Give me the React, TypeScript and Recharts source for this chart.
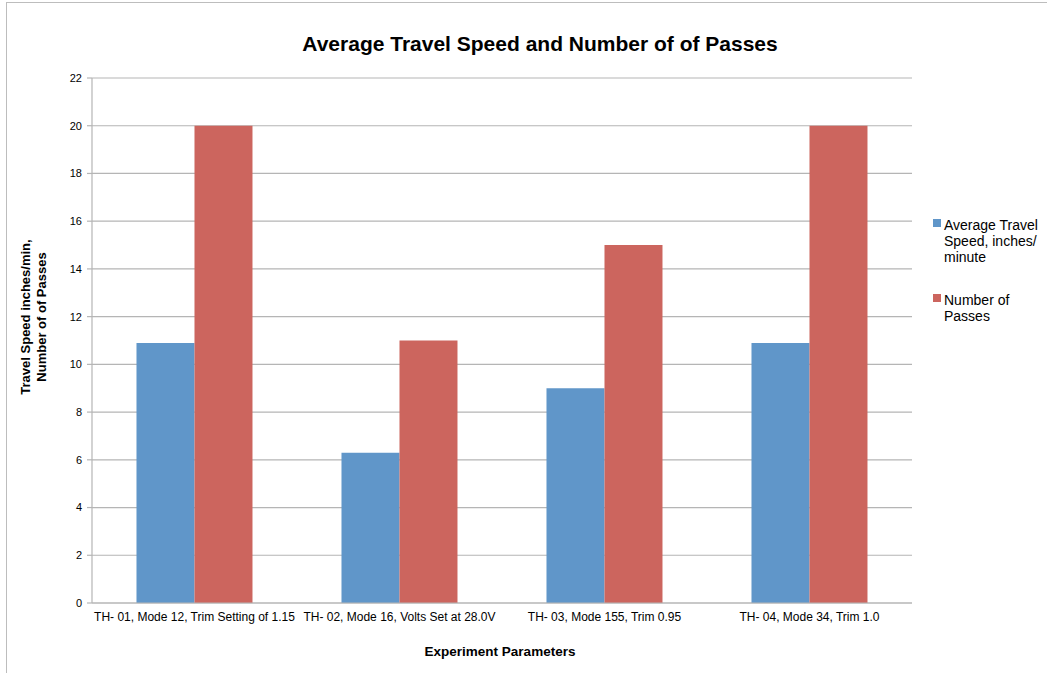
import React from "react";
import { Bar, BarChart, CartesianGrid, Legend, XAxis, YAxis } from "recharts";

const experiments = [
  "TH- 01, Mode 12, Trim Setting of 1.15",
  "TH- 02, Mode 16, Volts Set at 28.0V",
  "TH- 03, Mode 155, Trim 0.95",
  "TH- 04, Mode 34, Trim 1.0",
];
const travelSpeed = [10.9, 6.3, 9.0, 10.9];
const passes = [20, 11, 15, 20];
const yTicks = [0, 2, 4, 6, 8, 10, 12, 14, 16, 18, 20, 22];

const SPEED_NAME = "Average Travel Speed, inches/ minute";
const PASSES_NAME = "Number of Passes";

const data = experiments.map((name, i) => ({
  name,
  speed: travelSpeed[i],
  passes: passes[i],
}));

const FONT = "'Liberation Sans', Arial, sans-serif";
const GRID = "#b5b5b5";

function LegendBox({ payload }: any) {
  return (
    <div style={{ fontFamily: FONT, fontSize: 14, lineHeight: "16px", color: "#000" }}>
      {(payload || []).map((p: any, i: number) => (
        <div key={p.value} style={{ display: "flex", alignItems: "flex-start", marginTop: i === 0 ? 0 : 27 }}>
          <span
            style={{
              display: "inline-block",
              width: 8,
              height: 8,
              marginTop: 2,
              marginRight: 3,
              background: p.color,
              flexShrink: 0,
            }}
          />
          <span style={{ width: 102 }}>{p.value}</span>
        </div>
      ))}
    </div>
  );
}

export default function App() {
  return (
    <div
      style={{
        position: "absolute",
        left: 0,
        top: 0,
        width: 1047,
        height: 673,
        background: "#fff",
        overflow: "hidden",
      }}
    >
      {/* frame */}
      <div
        style={{
          position: "absolute",
          left: 6,
          top: 2,
          width: 1047,
          height: 680,
          borderLeft: "1.5px solid #bdbdbd",
          borderTop: "1.5px solid #bdbdbd",
        }}
      />
      <div
        style={{
          position: "absolute",
          left: 0,
          top: 32,
          width: 1080,
          textAlign: "center",
          fontFamily: FONT,
          fontWeight: "bold",
          fontSize: 21,
          color: "#000",
        }}
      >
        Average Travel Speed and Number of of Passes
      </div>
      <div
        style={{
          position: "absolute",
          left: 34,
          top: 317,
          transform: "translate(-50%, -50%) rotate(-90deg)",
          whiteSpace: "nowrap",
          textAlign: "center",
          fontFamily: FONT,
          fontWeight: "bold",
          fontSize: 13,
          lineHeight: "16px",
          color: "#000",
        }}
      >
        Travel Speed inches/min,
        <br />
        Number of of Passes
      </div>
      <div
        style={{
          position: "absolute",
          left: 0,
          top: 644,
          width: 1000,
          textAlign: "center",
          fontFamily: FONT,
          fontWeight: "bold",
          fontSize: 13.5,
          color: "#000",
        }}
      >
        Experiment Parameters
      </div>
      <BarChart
        width={1047}
        height={673}
        data={data}
        margin={{ top: 78, right: 135, bottom: 40, left: 32 }}
        barCategoryGap="21.7%"
        barGap={0}
        style={{ position: "absolute", left: 0, top: 0 }}
      >
        <CartesianGrid vertical={false} stroke={GRID} strokeWidth={1.2} />
        <XAxis
          dataKey="name"
          height={30}
          tickLine={false}
          tickSize={6}
          tickMargin={3}
          axisLine={{ stroke: GRID, strokeWidth: 1.2 }}
          interval={0}
          tick={{ fontSize: 12, fill: "#000", fontFamily: FONT }}
        />
        <YAxis
          width={60}
          domain={[0, 22]}
          ticks={yTicks}
          tickSize={5}
          tickMargin={5}
          axisLine={{ stroke: GRID, strokeWidth: 1.2 }}
          tickLine={{ stroke: GRID, strokeWidth: 1.2 }}
          tick={{ fontSize: 11, fill: "#000", fontFamily: FONT }}
        />
        <Legend
          layout="horizontal"
          verticalAlign="middle"
          align="center"
          content={<LegendBox />}
          wrapperStyle={{ left: 933, top: 217, width: 114 }}
        />
        <Bar dataKey="speed" name={SPEED_NAME} fill="#6096c9" isAnimationActive={false} />
        <Bar dataKey="passes" name={PASSES_NAME} fill="#cc655e" isAnimationActive={false} />
      </BarChart>
    </div>
  );
}
